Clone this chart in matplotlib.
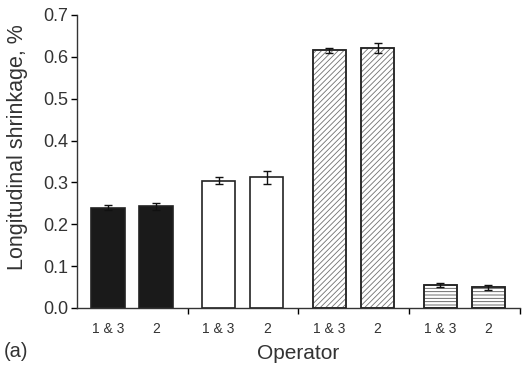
import numpy as np
import matplotlib
matplotlib.use("Agg")
import matplotlib.pyplot as plt

# values
groups = ["A", "B", "C", "D"]
bar_labels = ["1 & 3", "2"]
vals_13 = [0.239, 0.304, 0.616, 0.055]
vals_2 = [0.243, 0.312, 0.620, 0.049]
err_13 = [0.006, 0.008, 0.006, 0.005]
err_2 = [0.008, 0.015, 0.012, 0.007]

plt.rcParams['font.family'] = ['Liberation Sans', 'DejaVu Sans']
plt.rcParams['hatch.linewidth'] = 0.6

fig = plt.figure(figsize=(5.23, 3.70), dpi=100)
ax = fig.add_axes([0.147, 0.1676, 0.847, 0.792])

faces = ["#1a1a1a", "white", "white", "white"]
hatches = [None, None, "//////", "-----"]
hatch_cols = ["#1a1a1a", "#333333", "#707070", "#555555"]

w = 0.3
x = np.arange(len(groups))
for i in range(len(groups)):
	for pos, v, e in [(0.28, vals_13[i], err_13[i]), (0.715, vals_2[i], err_2[i])]:
		b = ax.bar(x[i] + pos, v, width=w, color=faces[i], edgecolor="#222222",
			linewidth=1.2, hatch=hatches[i], zorder=2)
		if hatches[i]:
			b[0].set_edgecolor(hatch_cols[i])
			# redraw the outline in dark
			ax.bar(x[i] + pos, v, width=w, color="none", edgecolor="#222222",
				linewidth=1.2, zorder=3)
		ax.errorbar(x[i] + pos, v, yerr=e, fmt="none", ecolor="#111111",
			elinewidth=1.0, capsize=3, capthick=1.0, zorder=4)

ax.set_xlim(0, 4)
ax.set_ylim(0, 0.7)
ax.set_yticks(np.arange(0, 0.71, 0.1))
ax.set_yticklabels(["%.1f" % t for t in np.arange(0, 0.71, 0.1)], fontsize=13, color="#333333")

centers = []
labs = []
for i in range(len(groups)):
	centers += [x[i] + 0.28, x[i] + 0.715]
	labs += bar_labels
ax.set_xticks(centers)
ax.set_xticklabels(labs, fontsize=10, color="#333333")
ax.tick_params(axis="x", which="major", length=0, pad=10)
ax.set_xticks([1, 2, 3, 4], minor=True)
ax.tick_params(axis="x", which="minor", length=4, width=1.0, direction="out")
ax.tick_params(axis="y", length=4, width=1.0, direction="out", pad=2)

ax.spines['right'].set_visible(False)
ax.spines['top'].set_visible(False)
ax.spines['left'].set_linewidth(1.0)
ax.spines['bottom'].set_linewidth(1.0)
ax.spines['left'].set_color("#333333")
ax.spines['bottom'].set_color("#333333")

ax.set_ylabel("Longitudinal shrinkage, %", fontsize=15.5, color="#333333")
ax.yaxis.set_label_coords(-0.11, 0.55)
ax.set_xlabel("Operator", fontsize=15, color="#333333", labelpad=6)
fig.text(0.008, 0.035, "(a)", fontsize=14.5, color="#333333")

plt.savefig("out.png", dpi=100)
plt.close()
